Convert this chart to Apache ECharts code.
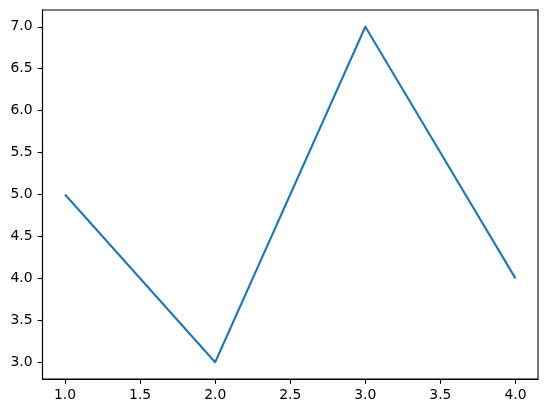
<!DOCTYPE html>
<html><head><meta charset="utf-8">
<script src="https://cdn.jsdelivr.net/npm/echarts@6/dist/echarts.min.js"></script>
<style>html,body{margin:0;padding:0;background:#fff}#c{width:547px;height:413px}</style>
</head><body><div id="c"></div>
<script>
var xValues = [1, 2, 3, 4];
var yValues = [5, 3, 7, 4];
var xTicks = [1.0, 1.5, 2.0, 2.5, 3.0, 3.5, 4.0];
var yTicks = [3.0, 3.5, 4.0, 4.5, 5.0, 5.5, 6.0, 6.5, 7.0];

var chart = echarts.init(document.getElementById('c'), null, {renderer: 'canvas'});
var font = {fontFamily: 'DejaVu Sans', fontSize: 13.9, color: '#000'};
chart.setOption({
  animation: false,
  grid: {left: 42.5, right: 9, top: 10, bottom: 34, show: true, borderColor: '#000', borderWidth: 1.1, containLabel: false},
  xAxis: {
    type: 'value', min: 0.85, max: 4.15,
    axisLine: {show: true, onZero: false, lineStyle: {color: '#000', width: 1.1}},
    axisTick: {show: true, length: 4.9, customValues: xTicks, lineStyle: {color: '#000', width: 1.1}},
    axisLabel: Object.assign({customValues: xTicks, margin: 9, formatter: function(v){return v.toFixed(1);}}, font),
    splitLine: {show: false}
  },
  yAxis: {
    type: 'value', min: 2.8, max: 7.2,
    axisLine: {show: true, onZero: false, lineStyle: {color: '#000', width: 1.1}},
    axisTick: {show: true, length: 4.9, customValues: yTicks, lineStyle: {color: '#000', width: 1.1}},
    axisLabel: Object.assign({customValues: yTicks, margin: 10, formatter: function(v){return v.toFixed(1);}}, font),
    splitLine: {show: false}
  },
  series: [{
    type: 'line',
    data: xValues.map(function(x, i){ return [x, yValues[i]]; }),
    showSymbol: false,
    lineStyle: {color: '#1f77b4', width: 2.08, cap: 'butt', join: 'round'},
    itemStyle: {color: '#1f77b4'}
  }]
});
</script></body></html>
